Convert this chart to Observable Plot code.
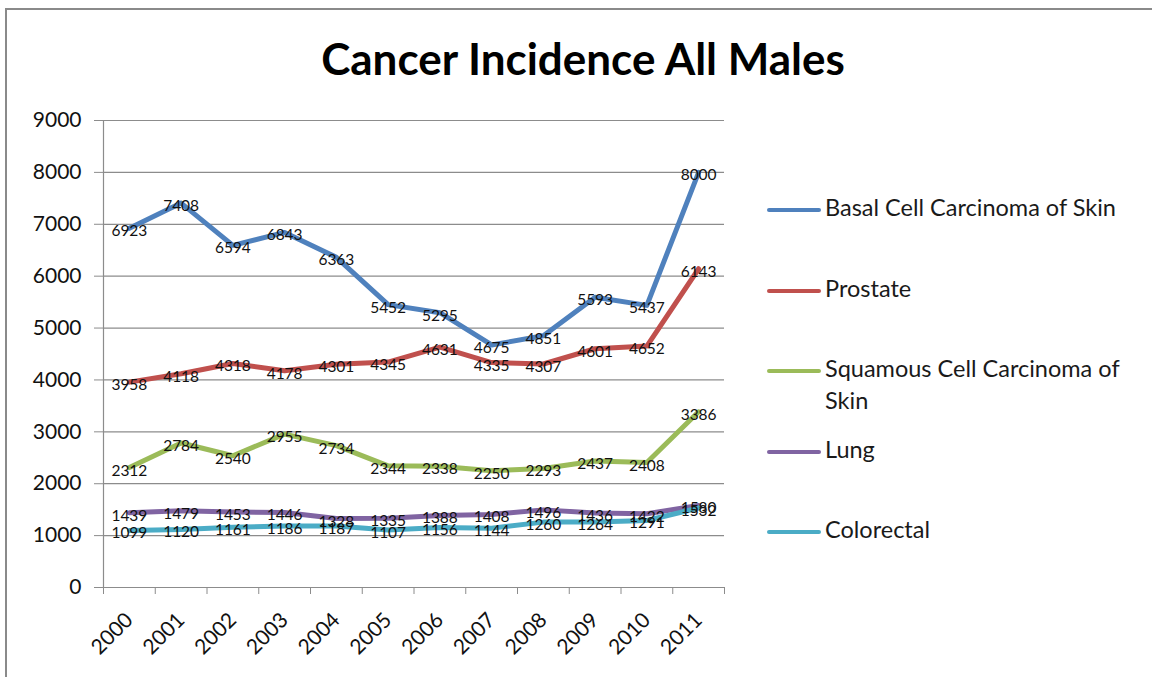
<!DOCTYPE html>
<html>
<head>
<meta charset="utf-8">
<script src="https://cdn.jsdelivr.net/npm/d3@7"></script>
<script src="https://cdn.jsdelivr.net/npm/@observablehq/plot@0.6"></script>
<style>
  html, body { margin:0; padding:0; background:#fff; width:1152px; height:677px; overflow:hidden; font-family: Lato, "Open Sans", sans-serif; }
  #frame { position:absolute; left:5px; top:8px; width:1300px; height:800px; border:2px solid #8a8a8a; box-sizing:border-box; }
  #title { position:absolute; left:0; top:32px; width:1166px; text-align:center; font-size:44px; font-weight:700; color:#000; }
  #chart { position:absolute; left:0; top:0; }
  #legend { position:absolute; left:767px; top:191px; }
  .item { display:flex; align-items:flex-start; height:80.5px; }
  .sw { width:54px; height:4px; border-radius:2px; margin-top:17px; margin-right:4px; flex:none; }
  .lab { width:310px; font-size:23.5px; line-height:32px; color:#1a1a1a; }
</style>
</head>
<body>
<div id="frame"></div>
<div id="chart"></div>
<div id="title">Cancer Incidence All Males</div>
<div id="legend"></div>
<script>
const years = [2000,2001,2002,2003,2004,2005,2006,2007,2008,2009,2010,2011];
const seriesNames = ["Basal Cell Carcinoma of Skin","Prostate","Squamous Cell Carcinoma of Skin","Lung","Colorectal"];
const seriesColors = ["#4F81BD","#C0504D","#9BBB59","#8064A2","#4BACC6"];
const basal      = [6923,7408,6594,6843,6363,5452,5295,4675,4851,5593,5437,8000];
const prostate   = [3958,4118,4318,4178,4301,4345,4631,4335,4307,4601,4652,6143];
const squamous   = [2312,2784,2540,2955,2734,2344,2338,2250,2293,2437,2408,3386];
const lung       = [1439,1479,1453,1446,1328,1335,1388,1408,1496,1436,1422,1580];
const colorectal = [1099,1120,1161,1186,1187,1107,1156,1144,1260,1264,1291,1532];
const yTicks = [0,1000,2000,3000,4000,5000,6000,7000,8000,9000];

const seriesValues = [basal, prostate, squamous, lung, colorectal];
const data = [];
seriesNames.forEach((name, i) => {
  years.forEach((yr, j) => data.push({series:name, year:yr, value:seriesValues[i][j]}));
});
const boundaries = years.map(y => y - 0.5).concat([years[years.length-1] + 0.5]);
const gray = "#8c8c8c";

const chart = Plot.plot({
  width:1152, height:677,
  marginLeft:103, marginRight:428, marginTop:120, marginBottom:90,
  style:{fontFamily:"Lato, 'Open Sans', sans-serif", background:"transparent", color:"#000"},
  x:{type:"linear", domain:[boundaries[0], boundaries[boundaries.length-1]]},
  y:{domain:[0,9000]},
  color:{domain:seriesNames, range:seriesColors},
  marks:[
    Plot.gridY(yTicks, {stroke:gray, strokeOpacity:1, strokeWidth:1.2}),
    Plot.axisY({ticks:yTicks, tickSize:9, tickPadding:13, fontSize:21, tickFormat:d => String(d), label:null, stroke:gray, fill:"#111"}),
    Plot.frame({anchor:"left", stroke:gray, strokeWidth:1.2}),
    Plot.ruleY([0], {stroke:gray, strokeWidth:1.2}),
    Plot.axisX({ticks:boundaries, tickSize:7, tickFormat:() => "", label:null, stroke:gray}),
    Plot.axisX({ticks:years, tickSize:0, tickPadding:29, tickRotate:-45, tickFormat:d => String(d), fontSize:21, label:null, fill:"#111"}),
    Plot.line(data, {x:"year", y:"value", z:"series", stroke:"series", strokeWidth:5, strokeLinejoin:"round", strokeLinecap:"round"}),
    Plot.text(data, {x:"year", y:"value", text:d => String(d.value), fontSize:15.5, dy:3, fill:"#111"})
  ]
});
document.getElementById("chart").appendChild(chart);

const legend = document.getElementById("legend");
seriesNames.forEach((name, i) => {
  const item = document.createElement("div");
  item.className = "item";
  const sw = document.createElement("div");
  sw.className = "sw";
  sw.style.background = seriesColors[i];
  const lab = document.createElement("div");
  lab.className = "lab";
  lab.textContent = name;
  item.appendChild(sw); item.appendChild(lab);
  legend.appendChild(item);
});
</script>
</body>
</html>
